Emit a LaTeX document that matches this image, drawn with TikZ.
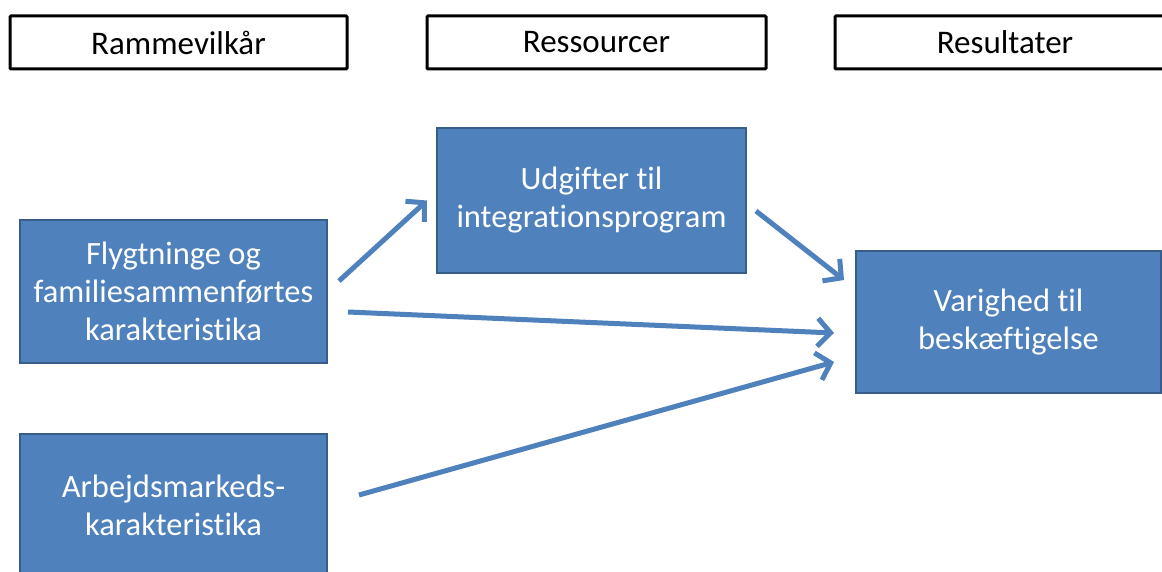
\documentclass[tikz,border=0pt]{standalone}
\usepackage{fontspec}
\setmainfont{Carlito}[Ligatures=NoCommon]
\usetikzlibrary{arrows.meta,calc}
\definecolor{boxfill}{HTML}{4F81BD}
\definecolor{boxedge}{HTML}{385D8A}
\definecolor{arrowcol}{HTML}{4F81BD}
\begin{document}
\begin{tikzpicture}[x=1pt,y=-1pt,
  header/.style={draw=black, line width=3pt, fill=white, rounded corners=1pt,
    minimum width=337pt, minimum height=53pt, inner sep=0pt,
    font=\fontsize{33}{38}\selectfont, text=black},
  bluebox/.style={draw=boxedge, line width=2pt, fill=boxfill,
    minimum width=307pt, minimum height=143pt, inner sep=0pt,
    align=center, text=white, font=\fontsize{32.5}{38}\selectfont},
  arr/.style={draw=arrowcol, line width=5pt,
    -{Straight Barb[length=13pt,width=28pt]}}]
\useasboundingbox (0,0) rectangle (1162,572);
\clip (0,0) rectangle (1162,572);
\fill[white] (0,0) rectangle (1162,572);
% headers
\node[header] (h1) at (178.5,42.5) {Rammevilkår};
\node[header, minimum width=339pt] (h2) at (596.5,42.5) {Ressourcer};
\node[header, minimum width=340pt] (h3) at (1005,42.5) {Resultater};
% boxes
\node[bluebox] (flyg) at (173.5,291.5) {Flygtninge og\\familiesammenførtes\\karakteristika};
\node[bluebox, minimum width=309pt, minimum height=145pt] (udg) at (591.5,200.5) {Udgifter til\\integrationsprogram};
\node[bluebox, minimum width=305pt, minimum height=142pt] (var) at (1008.5,322) {Varighed til\\beskæftigelse};
\node[bluebox] (arb) at (173.5,505.5) {Arbejdsmarkeds-\\karakteristika};
% arrows
\draw[arr] ($(flyg.east)+(11,-10.5)$) -- ($(udg.west)+(-9,0)$);
\draw[arr] ($(flyg.east)+(20,20.5)$) -- ($(var.west)+(-21,11)$);
\draw[arr] ($(arb.east)+(31,-10.5)$) -- ($(var.west)+(-21,40)$);
\draw[arr] ($(udg.east)+(9,10.5)$) -- ($(var.west)+(-11,-42)$);
\end{tikzpicture}
\end{document}
